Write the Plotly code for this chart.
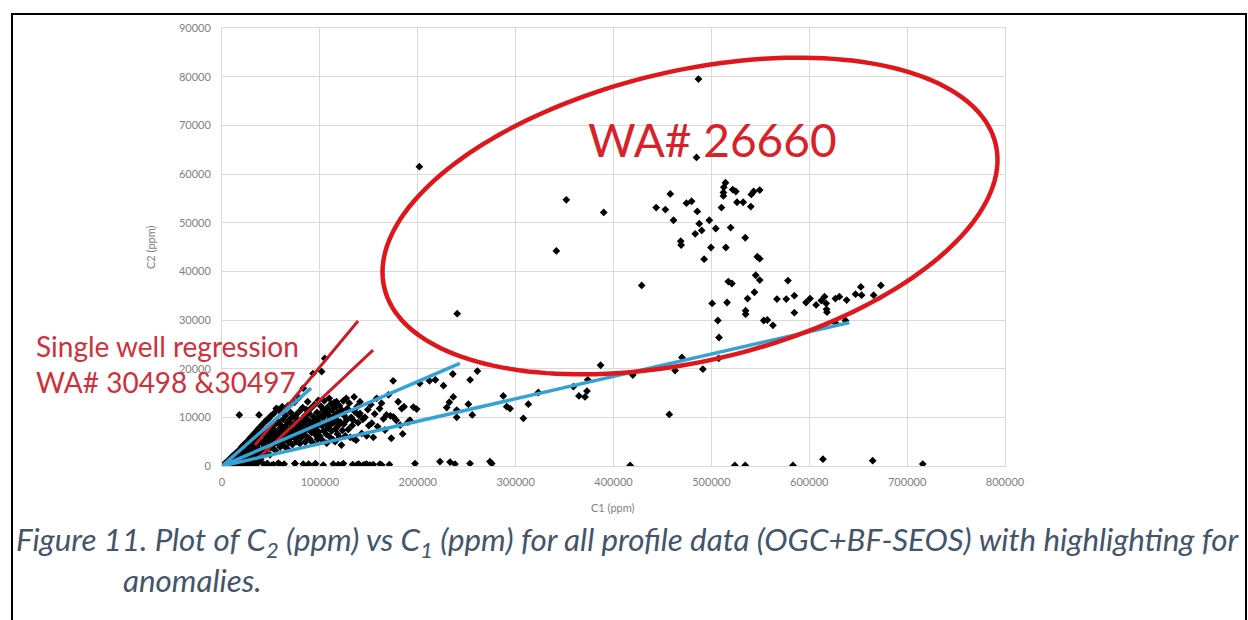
import math
import plotly.graph_objects as go

# ---------------------------------------------------------------------------
# C1 / C2 concentrations (ppm)
# ---------------------------------------------------------------------------
# dense lower-left cloud (values in thousands of ppm, scaled below)
cluster_c1_k = [1.5, 2.5, 3, 3.5, 4, 4.5, 5, 5.5, 6, 6.5, 7, 7.5, 8, 8.5, 9, 9.5, 10, 10,
                11, 11.5, 12, 12.5, 13, 13.5, 14, 14.5, 15, 15.5, 16, 16.5, 17, 18, 18.5, 19, 19.5, 20, 20,
                21, 21.5, 22, 22.5, 23, 23.5, 24, 24.5, 25, 25.5, 26, 26.5, 27, 27.5, 28, 28.5, 29, 29.5, 30, 30,
                31, 31.5, 32, 32.5, 33, 33.5, 34, 34.5, 35, 35.5, 36, 36.5, 37, 37.5, 38, 38.5, 39, 39.5, 40, 40,
                41, 41.5, 42, 42.5, 43, 43.5, 44, 44.5, 45, 45.5, 46, 46.5, 47, 47.5, 48, 48.5, 49, 49.5, 50, 50,
                51, 51.5, 52, 52.5, 53, 53.5, 54, 54.5, 55, 55.5, 56, 56.5, 57, 57.5, 58, 58.5, 59, 59.5, 60, 60,
                61, 61.5, 62, 62.5, 63, 63.5, 64, 64.5, 65, 65.5, 66, 66.5, 67, 67.5, 68, 68.5, 69, 69.5, 70, 70,
                71, 71.5, 72, 72.5, 73, 73.5, 74, 74.5, 75, 75.5, 76, 76.5, 77, 77.5, 78, 78.5, 79, 79.5, 80, 80,
                81, 81.5, 82, 82.5, 83, 83.5, 84, 84.5, 85, 85.5, 86, 86.5, 87, 87.5, 88, 88.5, 89, 89.5, 90, 90,
                91, 91.5, 92, 92.5, 93, 93.5, 94, 94.5, 95, 95.5, 96, 96.5, 97, 97.5, 98, 98.5, 99, 99.5, 100, 100,
                101, 101.8, 102, 102.5, 103, 103.5, 104, 104.5, 105, 105.2, 106, 106.5, 107, 107.5, 108, 108.5, 109, 109.5, 110, 110,
                111, 111.5, 112, 112.5, 113, 113.5, 114, 114.5, 115, 115.5, 116, 116.5, 117, 117.5, 118, 118.5, 119, 119.5, 120, 120,
                121, 122, 122.5, 123, 124, 124.5, 125, 126, 127, 127.5, 128, 129, 130, 131, 132, 133, 134, 134.2, 135, 136, 137, 138, 139, 140,
                141, 141, 142.7, 144, 146, 147.8, 149, 150, 152, 153, 154.6, 156, 158, 159, 161, 163, 165, 166.5, 168, 170, 172, 173, 175, 178,
                17.7, 37.8, 55.9]
cluster_c2_k = [0.2, 0.4, 0.2, 0.6, 0.3, 0.8, 0.5, 0.2, 1.0, 0.6, 0.4, 1.3, 0.8, 0.3, 1.6, 1.0, 0.6, 1.9,
                1.2, 2.1, 0.7, 1.5, 2.4, 0.9, 1.8, 2.7, 1.1, 0.4, 2.2, 3.1, 1.4, 2.6, 0.5, 3.4, 1.7, 2.1, 3.9,
                1.0, 4.2, 2.6, 0.4, 3.1, 4.6, 1.5, 2.0, 3.6, 5.0, 0.6, 2.4, 4.1, 5.4, 1.8, 3.0, 5.8, 0.3, 2.6, 4.5,
                6.2, 1.2, 3.4, 5.0, 6.7, 0.5, 2.1, 4.0, 7.1, 5.4, 2.9, 0.7, 7.6, 4.6, 3.3, 6.0, 8.0, 1.4, 5.0, 2.6,
                8.5, 3.6, 6.4, 0.4, 4.4, 9.0, 2.9, 5.4, 7.0, 9.4, 3.5, 0.5, 6.0, 4.6, 9.8, 7.4, 2.3, 5.2, 10.3, 3.8,
                6.5, 8.0, 4.3, 0.3, 10.8, 5.6, 7.1, 3.2, 8.7, 11.8, 4.8, 6.2, 9.2, 0.6, 5.3, 7.6, 11.3, 3.9, 6.8, 8.4,
                5.0, 12.2, 7.3, 9.6, 4.2, 0.4, 6.0, 8.1, 10.4, 5.4, 7.0, 3.6, 8.9, 12.4, 6.4, 4.8, 9.5, 7.6, 5.7, 11.0,
                6.9, 8.5, 4.4, 10.1, 7.4, 5.9, 13.1, 0.5, 8.9, 6.6, 10.6, 5.0, 7.9, 9.6, 6.1, 14.0, 8.4, 4.6, 11.4, 7.2,
                5.8, 9.2, 7.7, 12.0, 16.0, 6.4, 8.8, 10.3, 4.9, 7.3, 11.6, 9.7, 6.0, 13.2, 8.1, 0.4, 10.8, 5.6, 7.6, 9.1,
                11.9, 6.9, 8.6, 4.8, 19.0, 10.1, 7.4, 12.6, 9.4, 0.5, 6.3, 8.1, 11.0, 5.5, 9.8, 13.5, 7.0, 8.9, 10.6, 6.1,
                12.3, 19.4, 8.3, 5.3, 9.9, 11.5, 7.2, 13.4, 22.1, 8.7, 10.7, 6.5, 4.7, 12.0, 9.2, 7.8, 11.1, 13.9, 6.0, 10.2,
                8.5, 12.8, 7.2, 9.8, 11.6, 5.4, 8.9, 13.0, 10.5, 5.0, 7.6, 12.2, 13.2, 9.4, 6.6, 11.0, 8.3, 10.8, 5.9, 12.4,
                9.0, 4.3, 11.5, 7.3, 13.4, 8.6, 10.3, 6.2, 13.9, 9.5, 11.8, 7.5, 12.9, 5.9, 10.0, 8.3, 9.4, 5.7, 14.2, 11.1, 5.3, 12.2, 8.9, 10.4,
                10.8, 13.2, 6.7, 9.6, 10.0, 6.2, 11.6, 8.3, 12.6, 8.8, 5.9, 10.7, 13.9, 8.1, 11.8, 12.9, 9.7, 7.4, 10.5, 14.6, 10.3, 5.7, 10.1, 9.4,
                10.5, 10.5, 11.8]

# points near the C2 = 0 baseline
baseline_c1 = [5000, 8000, 12000, 16000, 20000, 24000, 27000,
               30300, 34700, 45700, 50800, 59300, 74600, 83000, 88200, 95000, 103500, 113700, 118800,
               122300, 124000, 133500, 137600, 139300, 140300, 144400, 146100, 147800, 151200, 154600,
               161400, 163200, 171000, 197200, 222700, 233000, 238000, 253400, 273800, 275600,
               417000, 524000, 534600, 583400, 614000, 664800, 716000]
baseline_c2 = [100, 200, 100, 200, 300, 100, 200,
               300, 200, 400, 100, 300, 500, 400, 200, 300, 200, 400, 300,
               200, 500, 300, 200, 400, 300, 200, 300, 400, 200, 300,
               400, 200, 300, 500, 900, 800, 400, 500, 900, 500,
               100, 100, 100, 100, 1400, 1100, 400]

# scattered mid-range samples
mid_c1 = [180000, 182000, 183600, 184600, 186000, 190000, 192000, 195500, 198900,
          229600, 232200, 236300, 239800, 239800, 251700, 255700,
          287400, 290900, 294300, 307900, 313000, 323200, 359000, 364700, 370900, 372900, 457000]
mid_c2 = [13200, 8400, 11800, 6600, 12200, 9000, 9400, 12100, 11700,
          12000, 13100, 14200, 11500, 10000, 12700, 10500,
          14400, 12200, 11800, 9800, 12700, 15100, 16300, 14400, 14200, 15400, 10600]

# WA# 26660 samples and neighbouring points
wa_c1 = [486800, 484800, 201600, 351800, 390000, 341600, 428800, 240300, 458000, 443600,
         453000, 461300, 474500, 479800, 485600, 487600, 497900, 490100, 483500, 504500,
         514400, 512700, 512300, 512300, 510300, 521800, 525000, 526200, 532500, 540300,
         540800, 543200, 549400, 519700, 534600, 468700, 469100, 499600, 514800, 492600,
         546900, 549400, 545300, 549400, 517300, 521000, 578200, 544000, 537000, 567000,
         576500, 584800, 500800, 516000, 535000, 535000, 596700, 600800, 607000, 612300,
         615600, 617300, 617700, 618100, 626700, 630800, 638200, 647300, 652700, 653500,
         665800, 673200, 584800, 506600, 553500, 557200, 562900, 507800, 626700, 637000,
         469900, 386800, 419700, 462900, 491300, 507400, 174900, 202000, 212000, 218000,
         226300, 235800, 253500, 260900, 373700]
wa_c2 = [79500, 63400, 61500, 54700, 52100, 44200, 37100, 31300, 55900, 53100,
         52700, 50500, 54000, 54400, 52300, 49800, 50500, 48400, 47700, 48800,
         58200, 57300, 56200, 55500, 53100, 56800, 56400, 54200, 54200, 53300,
         55800, 56400, 56700, 49000, 46900, 46200, 45400, 44900, 44900, 42500,
         43000, 42600, 39200, 38200, 37900, 37500, 38100, 35700, 34400, 34300,
         34300, 35000, 33400, 33600, 31900, 31200, 33600, 34400, 33100, 34000,
         34800, 33400, 32200, 31600, 34400, 34800, 34100, 35300, 36800, 35100,
         35100, 37100, 31500, 29900, 29900, 30000, 28900, 26400, 29400, 29900,
         22300, 20700, 18700, 19600, 19900, 22100, 17500, 17000, 17500, 17700,
         16500, 18900, 17700, 19500, 17700]

# linear trend lines fitted from the origin (end points, ppm)
blue_trend_c1_end = [641000, 243000, 91000]
blue_trend_c2_end = [29500, 21100, 16000]

# single-well regressions (start and end points, ppm)
red_trend_c1 = [(33700, 139000), (37100, 154300)]
red_trend_c2 = [(4300, 29800), (1600, 23800)]

x_ticks = [0, 100000, 200000, 300000, 400000, 500000, 600000, 700000, 800000]
y_ticks = [0, 10000, 20000, 30000, 40000, 50000, 60000, 70000, 80000, 90000]

# ---------------------------------------------------------------------------
# page geometry
# ---------------------------------------------------------------------------
W, H = 1248, 620
ML, MR, MT, MB = 222, 243, 28, 154
PW, PH = W - ML - MR, H - MT - MB
X_MAX, Y_MAX = 800000, 90000


def paper_x(px):
    return (px - ML) / PW


def paper_y(py):
    return (H - MB - py) / PH


def data_x(px):
    return (px - ML) / PW * X_MAX


def data_y(py):
    return (H - MB - py) / PH * Y_MAX


AXIS_GREY = "#7f7f7f"
GRID = "#d9d9d9"
RED = "#d8222a"
BLUE = "#33a3d6"

fig = go.Figure()

all_c1 = [v * 1000 for v in cluster_c1_k] + baseline_c1 + mid_c1 + wa_c1
all_c2 = [v * 1000 for v in cluster_c2_k] + baseline_c2 + mid_c2 + wa_c2

fig.add_trace(go.Scatter(
    x=all_c1, y=all_c2, mode="markers",
    marker=dict(symbol="diamond", size=6, color="#000000", line=dict(width=0)),
    showlegend=False, hoverinfo="x+y",
))

for (xs, xe), (ys, ye) in zip(red_trend_c1, red_trend_c2):
    fig.add_trace(go.Scatter(x=[xs, xe], y=[ys, ye], mode="lines",
                             line=dict(color="#c91c26", width=3),
                             showlegend=False, hoverinfo="skip"))

for xe, ye in zip(blue_trend_c1_end, blue_trend_c2_end):
    fig.add_trace(go.Scatter(x=[0, xe], y=[0, ye], mode="lines",
                             line=dict(color=BLUE, width=3.5),
                             showlegend=False, hoverinfo="skip"))

# highlight ellipse around the WA# 26660 anomaly (defined in screen pixels)
cx, cy, ra, rb, ang = 690, 216, 314, 145, math.radians(-13.2)
pts = []
for i in range(181):
    t = 2 * math.pi * i / 180
    px = cx + ra * math.cos(ang) * math.cos(t) - rb * math.sin(ang) * math.sin(t)
    py = cy + ra * math.sin(ang) * math.cos(t) + rb * math.cos(ang) * math.sin(t)
    pts.append((data_x(px), data_y(py)))
path = "M " + " L ".join(f"{x:.1f},{y:.1f}" for x, y in pts) + " Z"

shapes = [
    dict(type="path", path=path, xref="x", yref="y",
         line=dict(color="#e0161d", width=4.5), layer="above"),
    # figure frame
    dict(type="rect", xref="paper", yref="paper",
         x0=paper_x(12), x1=paper_x(1246), y0=paper_y(640), y1=paper_y(14),
         line=dict(color="#000000", width=2), layer="above"),
]

annotations = [
    dict(text="WA# 26660", x=paper_x(712), y=paper_y(139), xref="paper", yref="paper",
         showarrow=False, font=dict(family="Lato", size=46, color=RED),
         xanchor="center", yanchor="middle"),
    dict(text="Single well regression", x=paper_x(34), y=paper_y(346), xref="paper", yref="paper",
         showarrow=False, font=dict(family="Lato", size=28, color="#d0303a"),
         xanchor="left", yanchor="middle"),
    dict(text="WA# 30498 &30497", x=paper_x(34), y=paper_y(382), xref="paper", yref="paper",
         showarrow=False, font=dict(family="Lato", size=28, color="#d0303a"),
         xanchor="left", yanchor="middle"),
    dict(text="C2 (ppm)", x=paper_x(150), y=paper_y(247), xref="paper", yref="paper",
         showarrow=False, textangle=-90, font=dict(family="Lato", size=11, color=AXIS_GREY),
         xanchor="center", yanchor="middle"),
    dict(text="C1 (ppm)", x=paper_x(613), y=paper_y(507), xref="paper", yref="paper",
         showarrow=False, font=dict(family="Lato", size=11, color=AXIS_GREY),
         xanchor="center", yanchor="middle"),
    dict(text="Figure 11. Plot of C<sub>2</sub> (ppm) vs C<sub>1</sub> (ppm) for all profile data "
              "(OGC+BF-SEOS) with highlighting for",
         x=paper_x(14), y=paper_y(541), xref="paper", yref="paper", showarrow=False,
         font=dict(family="Lato", size=31.3, color="#44546a", style="italic"),
         xanchor="left", yanchor="middle"),
    dict(text="anomalies.", x=paper_x(121), y=paper_y(580), xref="paper", yref="paper",
         showarrow=False,
         font=dict(family="Lato", size=31.3, color="#44546a", style="italic"),
         xanchor="left", yanchor="middle"),
]

axis_common = dict(
    showgrid=True, gridcolor=GRID, gridwidth=1,
    showline=True, linecolor=GRID, linewidth=1, mirror=True,
    zeroline=False, ticks="", tickformat="d",
    tickfont=dict(family="Lato", size=11, color=AXIS_GREY),
)

fig.update_layout(
    width=W, height=H, autosize=False,
    margin=dict(l=ML, r=MR, t=MT, b=MB),
    paper_bgcolor="#ffffff", plot_bgcolor="#ffffff",
    xaxis=dict(range=[0, X_MAX], tickvals=x_ticks, ticklabelstandoff=6, **axis_common),
    yaxis=dict(range=[0, Y_MAX], tickvals=y_ticks, ticklabelstandoff=8, **axis_common),
    shapes=shapes, annotations=annotations,
    showlegend=False,
)

fig.write_html("out.html")
